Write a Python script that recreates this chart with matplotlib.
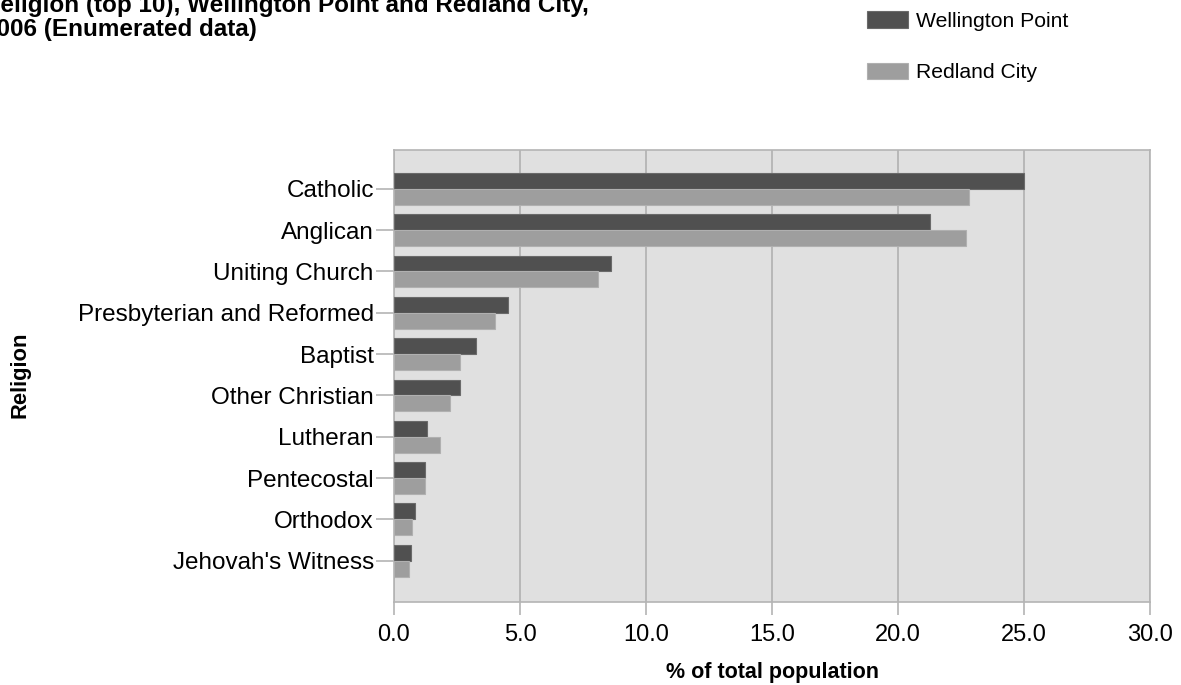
import numpy as np
import matplotlib.pyplot as plt

plt.rcParams['font.family'] = ['Liberation Sans', 'DejaVu Sans']

# Data
religions = ["Catholic", "Anglican", "Uniting Church", "Presbyterian and Reformed",
             "Baptist", "Other Christian", "Lutheran", "Pentecostal", "Orthodox",
             "Jehovah's Witness"]
wellington_point = [25.0, 21.25, 8.62, 4.52, 3.27, 2.63, 1.31, 1.24, 0.85, 0.67]
redland_city = [22.8, 22.7, 8.09, 3.99, 2.63, 2.23, 1.83, 1.24, 0.73, 0.60]
xticks = [0, 5, 10, 15, 20, 25, 30]

fig = plt.figure(figsize=(11.81, 6.85), dpi=100)
ax = fig.add_axes([394 / 1181, 1 - 602 / 685, 756 / 1181, 452 / 685])

y = np.arange(len(religions))
h = 0.385
ax.barh(y - h / 2, wellington_point, height=h, color='#505050',
        edgecolor='#6a6a6a', linewidth=0.8, label='Wellington Point', zorder=3)
ax.barh(y + h / 2, redland_city, height=h, color='#9e9e9e',
        edgecolor='#b0b0b0', linewidth=0.8, label='Redland City', zorder=3)

ax.set_facecolor('#e0e0e0')
ax.set_xlim(0, 30)
ax.set_ylim(len(religions) - 1 + 1.0, -0.94)
ax.set_xticks(xticks)
ax.set_xticklabels([f"{v:.1f}" for v in xticks], fontsize=17)
ax.set_yticks(y)
ax.set_yticklabels(religions, fontsize=17.5)
ax.grid(axis='x', color='#b0b0b0', linewidth=1.2, zorder=1)

for s in ax.spines.values():
    s.set_color('#b4b4b4')
    s.set_linewidth(1.2)
ax.tick_params(axis='y', length=13, width=1.2, color='#b4b4b4', pad=1.5)
ax.tick_params(axis='x', length=9, width=1.2, color='#b4b4b4', pad=6.5)

ax.set_xlabel('% of total population', fontsize=15.5, fontweight='bold', labelpad=12)
fig.text(20 / 1181, 1 - 375 / 685, 'Religion', rotation=90, fontsize=15.8,
         fontweight='bold', ha='center', va='center')

# clipped title
fig.text(-17 / 1181, 1 - 36 / 685,
         'Religion (top 10), Wellington Point and Redland City,\n2006 (Enumerated data)',
         fontsize=17.5, fontweight='bold', ha='left', va='baseline', linespacing=1.08)

leg = fig.legend(loc='upper left', bbox_to_anchor=(859 / 1181, 1 - 3 / 685),
                 frameon=False, fontsize=15.2, handlelength=1.9, handleheight=0.8,
                 labelspacing=1.5, handletextpad=0.38, borderaxespad=0)

fig.savefig('out.png', dpi=100)
